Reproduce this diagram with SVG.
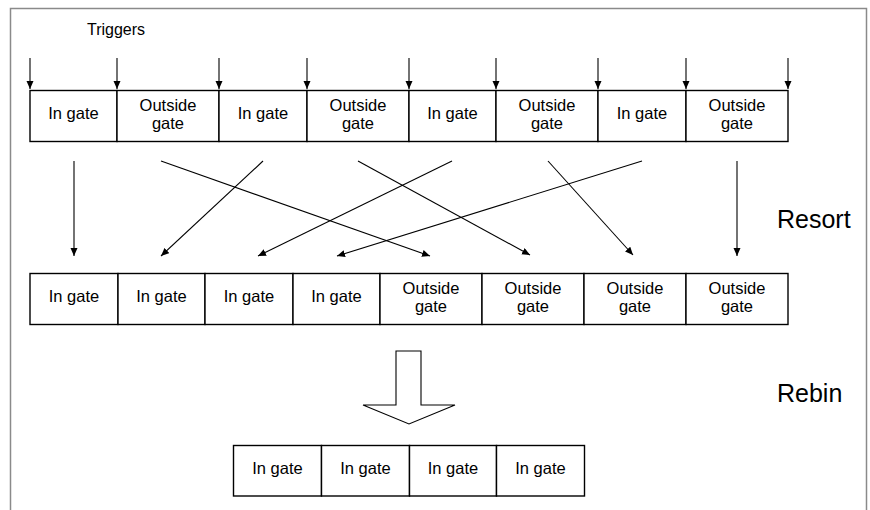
<svg xmlns="http://www.w3.org/2000/svg" width="870" height="510" viewBox="0 0 870 510">
  <style>
    .frame { fill: none; stroke: #8a8a8a; stroke-width: 1.5; }
    .cell { fill: #ffffff; stroke: #000000; stroke-width: 1.4; }
    .lbl { font-family: "Liberation Sans", Arial, sans-serif; font-size: 16.5px; fill: #000000; text-anchor: middle; }
    .title { font-family: "Liberation Sans", Arial, sans-serif; fill: #000000; }
    .conn { stroke: #000000; stroke-width: 1.1; fill: none; marker-end: url(#head); }
    .block { fill: #ffffff; stroke: #000000; stroke-width: 1.1; }
  </style>
  <defs>
    <marker id="head" markerUnits="userSpaceOnUse" markerWidth="10" markerHeight="8" refX="8" refY="3.5" orient="auto">
      <path d="M0,0 L8,3.5 L0,7 Z" fill="#000000"/>
    </marker>
  </defs>

  <rect width="870" height="510" fill="#ffffff"/>
  <rect class="frame" x="10.5" y="8.5" width="856" height="520"/>

  <text class="title" x="87" y="35" font-size="16">Triggers</text>
  <text class="title" x="777" y="228" font-size="25">Resort</text>
  <text class="title" x="777" y="402" font-size="25">Rebin</text>

  <!-- top row: gated / ungated time slices -->
  <g id="top-in-1"><rect class="cell" x="30" y="90.5" width="87" height="51"/><text class="lbl" x="73.5" y="119">In gate</text></g>
  <g id="top-out-1"><rect class="cell" x="117" y="90.5" width="102" height="51"/><text class="lbl" x="168" y="111">Outside</text><text class="lbl" x="168" y="129">gate</text></g>
  <g id="top-in-2"><rect class="cell" x="219" y="90.5" width="88" height="51"/><text class="lbl" x="263" y="119">In gate</text></g>
  <g id="top-out-2"><rect class="cell" x="307" y="90.5" width="102" height="51"/><text class="lbl" x="358" y="111">Outside</text><text class="lbl" x="358" y="129">gate</text></g>
  <g id="top-in-3"><rect class="cell" x="409" y="90.5" width="87" height="51"/><text class="lbl" x="452.5" y="119">In gate</text></g>
  <g id="top-out-3"><rect class="cell" x="496" y="90.5" width="102" height="51"/><text class="lbl" x="547" y="111">Outside</text><text class="lbl" x="547" y="129">gate</text></g>
  <g id="top-in-4"><rect class="cell" x="598" y="90.5" width="88" height="51"/><text class="lbl" x="642" y="119">In gate</text></g>
  <g id="top-out-4"><rect class="cell" x="686" y="90.5" width="102" height="51"/><text class="lbl" x="737" y="111">Outside</text><text class="lbl" x="737" y="129">gate</text></g>

  <!-- middle row: resorted slices -->
  <g id="mid-in-1"><rect class="cell" x="30" y="273.5" width="88" height="51"/><text class="lbl" x="74" y="302">In gate</text></g>
  <g id="mid-in-2"><rect class="cell" x="118" y="273.5" width="87" height="51"/><text class="lbl" x="161.5" y="302">In gate</text></g>
  <g id="mid-in-3"><rect class="cell" x="205" y="273.5" width="88" height="51"/><text class="lbl" x="249" y="302">In gate</text></g>
  <g id="mid-in-4"><rect class="cell" x="293" y="273.5" width="87" height="51"/><text class="lbl" x="336.5" y="302">In gate</text></g>
  <g id="mid-out-1"><rect class="cell" x="380" y="273.5" width="102" height="51"/><text class="lbl" x="431" y="294">Outside</text><text class="lbl" x="431" y="312">gate</text></g>
  <g id="mid-out-2"><rect class="cell" x="482" y="273.5" width="102" height="51"/><text class="lbl" x="533" y="294">Outside</text><text class="lbl" x="533" y="312">gate</text></g>
  <g id="mid-out-3"><rect class="cell" x="584" y="273.5" width="102" height="51"/><text class="lbl" x="635" y="294">Outside</text><text class="lbl" x="635" y="312">gate</text></g>
  <g id="mid-out-4"><rect class="cell" x="686" y="273.5" width="102" height="51"/><text class="lbl" x="737" y="294">Outside</text><text class="lbl" x="737" y="312">gate</text></g>

  <!-- bottom row: rebinned -->
  <g id="bot-in-1"><rect class="cell" x="233.5" y="445.5" width="88" height="50.5"/><text class="lbl" x="277.5" y="474">In gate</text></g>
  <g id="bot-in-2"><rect class="cell" x="321.5" y="445.5" width="88" height="50.5"/><text class="lbl" x="365.5" y="474">In gate</text></g>
  <g id="bot-in-3"><rect class="cell" x="409.5" y="445.5" width="87" height="50.5"/><text class="lbl" x="453" y="474">In gate</text></g>
  <g id="bot-in-4"><rect class="cell" x="496.5" y="445.5" width="88" height="50.5"/><text class="lbl" x="540.5" y="474">In gate</text></g>

  <!-- rebin arrow -->
  <g id="rebin-arrow">
    <polygon class="block" points="396,351 421,351 421,405 455,405 409,424 363,405 396,405"/>
  </g>

  <g id="connectors">
    <!-- trigger markers -->
    <line class="conn" x1="30" y1="58" x2="30" y2="89"/>
    <line class="conn" x1="117" y1="58" x2="117" y2="89"/>
    <line class="conn" x1="219" y1="58" x2="219" y2="89"/>
    <line class="conn" x1="307" y1="58" x2="307" y2="89"/>
    <line class="conn" x1="409" y1="58" x2="409" y2="89"/>
    <line class="conn" x1="496" y1="58" x2="496" y2="89"/>
    <line class="conn" x1="598" y1="58" x2="598" y2="89"/>
    <line class="conn" x1="686" y1="58" x2="686" y2="89"/>
    <line class="conn" x1="788" y1="58" x2="788" y2="89"/>
    <!-- resort mapping -->
    <line class="conn" x1="74" y1="161" x2="74" y2="256"/>
    <line class="conn" x1="161" y1="161" x2="430" y2="256"/>
    <line class="conn" x1="263" y1="161" x2="161" y2="256"/>
    <line class="conn" x1="358" y1="161" x2="530" y2="255"/>
    <line class="conn" x1="452" y1="161" x2="258" y2="256"/>
    <line class="conn" x1="548" y1="161" x2="633" y2="255"/>
    <line class="conn" x1="642" y1="161" x2="337" y2="256"/>
    <line class="conn" x1="737" y1="161" x2="737" y2="256"/>
  </g>
</svg>
